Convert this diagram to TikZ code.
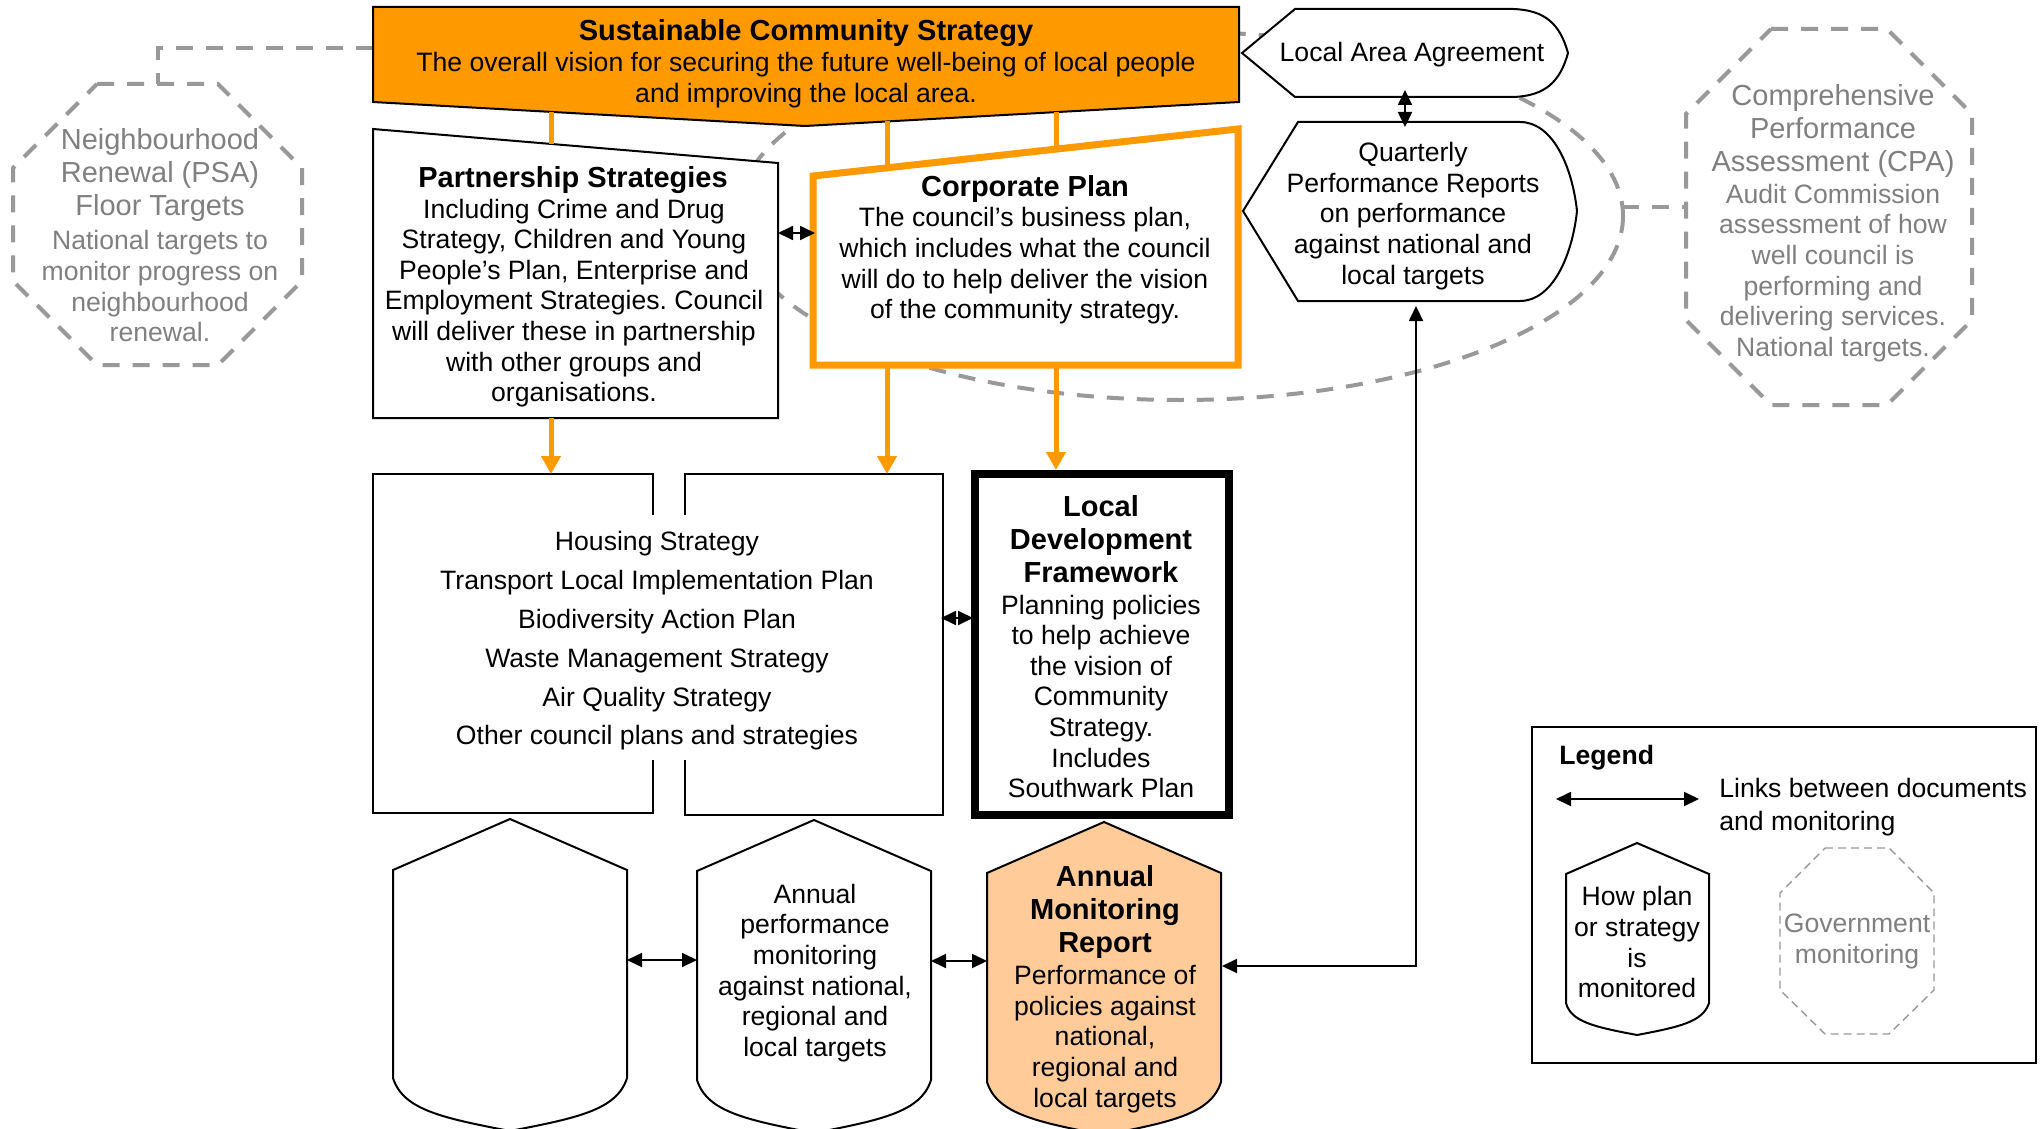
\documentclass[tikz,border=0pt]{standalone}
\usepackage{fontspec}
\setmainfont{Liberation Sans}
\usetikzlibrary{arrows.meta}
\frenchspacing
\definecolor{scsorange}{RGB}{255,153,0}
\definecolor{amrpeach}{RGB}{255,204,153}
\definecolor{govgrey}{RGB}{153,153,153}
\definecolor{govtext}{RGB}{128,128,128}
\newcommand\fbody{\fontsize{13.3}{15.3}\selectfont}
\newcommand\fbig{\fontsize{14.5}{16.7}\selectfont}
\newcommand\sst{\rule[-0.28em]{0pt}{1.15em}}
\tikzset{
  txt/.style={inner sep=0pt, align=center, font=\fbody},
  ttl/.style={inner sep=0pt, align=center, font=\fbig\bfseries},
  gtxt/.style={inner sep=0pt, align=center, font=\fbody, text=govtext},
  gbig/.style={inner sep=0pt, align=center, font=\fbig, text=govtext},
  box/.style={draw=black, line width=1pt, fill=white, line join=miter},
  govline/.style={draw=govgrey, line width=2pt, dash pattern=on 8.5pt off 6.5pt},
  govthin/.style={draw=govgrey, line width=0.7pt, dash pattern=on 4pt off 2.5pt},
  dlink/.style={draw=black, line width=0.9pt, {Triangle[length=7.5pt,width=7pt]}-{Triangle[length=7.5pt,width=7pt]}},
  feed/.style={draw=scsorange, line width=2.5pt},
  feedarrow/.style={draw=scsorange, line width=2.5pt, -{Triangle[length=9pt,width=9.5pt]}},
}
\begin{document}
\begin{tikzpicture}[x=0.5pt,y=-0.5pt]
\useasboundingbox (0,0) rectangle (2040,1129);
\fill[white] (0,0) rectangle (2040,1129);

% ---------- government monitoring (dashed) ----------
\draw[govline] (1180,216) ellipse [x radius=443, y radius=184];
\coordinate (ellE) at (1622,207);
\coordinate (cpaW) at (1686,207);
\draw[govline] (ellE) -- (cpaW);
\coordinate (scsW) at (373,48);
\coordinate (nrN) at (158,84);
\draw[govline] (scsW) -| (nrN);

\draw[govline] (97,84) -- (218,84) -- (302,168) -- (302,281) -- (218,365) -- (97,365) -- (13,281) -- (13,168) -- cycle;
\node[gbig] (nrT) at (160,174) {\sst Neighbourhood\\\sst Renewal (PSA)\\\sst Floor Targets};
\node[gtxt] (nrB) at (160,288) {\sst National targets to\\\sst monitor progress on\\\sst neighbourhood\\\sst renewal.};

\draw[govline] (1771,29) -- (1887,29) -- (1972,114) -- (1972,320) -- (1887,405) -- (1771,405) -- (1686,320) -- (1686,114) -- cycle;
\node[gbig] (cpaT) at (1833,130) {\sst Comprehensive\\\sst Performance\\\sst Assessment (CPA)};
\node[gtxt] (cpaB) at (1833,272) {\sst Audit Commission\\\sst assessment of how\\\sst well council is\\\sst performing and\\\sst delivering services.\\\sst National targets.};

% ---------- Sustainable Community Strategy ----------
\draw[box, fill=scsorange] (373,7) -- (1239,7) -- (1239,102) -- (805,126) -- (373,102) -- cycle;
\node[ttl] (scsT) at (806,32) {\sst Sustainable Community Strategy};
\node[txt] (scsB) at (806,79) {\sst The overall vision for securing the future well-being of local people\\\sst and improving the local area.};

% ---------- Partnership Strategies ----------
\draw[box] (373,129) -- (778,163) -- (778,418) -- (373,418) -- cycle;
\node[ttl] (psT) at (573,179) {\sst Partnership Strategies};
\node[txt] (psB) at (574,302) {\sst Including Crime and Drug\\\sst Strategy, Children and Young\\\sst People’s Plan, Enterprise and\\\sst Employment Strategies. Council\\\sst will deliver these in partnership\\\sst with other groups and\\\sst organisations.};

% ---------- Corporate Plan ----------
\draw[draw=scsorange, line width=3.5pt, fill=white] (813,176) -- (1238,129) -- (1238,365) -- (813,365) -- cycle;
\node[ttl] (cpT) at (1025,188) {\sst Corporate Plan};
\node[txt] (cpB) at (1025,265) {\sst The council’s business plan,\\\sst which includes what the council\\\sst will do to help deliver the vision\\\sst of the community strategy.};

% ---------- Local Area Agreement ----------
\draw[box] (1295,9) -- (1513,9) .. controls (1545,10) and (1560,24) .. (1568,53) .. controls (1560,82) and (1545,96) .. (1513,97) -- (1295,97) -- (1242,53) -- cycle;
\node[txt] (laa) at (1412,54) {\sst Local Area Agreement};

% ---------- Quarterly Performance Reports ----------
\draw[box] (1298,122) -- (1520,122) .. controls (1552,122) and (1572,165) .. (1577,211) .. controls (1572,257) and (1552,301) .. (1520,301) -- (1298,301) -- (1243,211) -- cycle;
\node[txt] (qpr) at (1413,215) {\sst Quarterly\\\sst Performance Reports\\\sst on performance\\\sst against national and\\\sst local targets};

% ---------- other council plans ----------
\draw[line width=1pt] (653,515) -- (653,474) -- (373,474) -- (373,813) -- (653,813) -- (653,760);
\draw[line width=1pt] (685,515) -- (685,474) -- (943,474) -- (943,815) -- (685,815) -- (685,760);
\node[inner sep=0pt, align=center, font=\fontsize{13.3}{19.4}\selectfont] (hs) at (657,640)
  {\sst Housing Strategy\\\sst Transport Local Implementation Plan\\\sst Biodiversity Action Plan\\\sst Waste Management Strategy\\\sst Air Quality Strategy\\\sst Other council plans and strategies};

% ---------- Local Development Framework ----------
\draw[line width=4pt, fill=white] (975,474) rectangle (1229,815);
\node[ttl] (ldfT) at (1101,541) {\sst Local\\\sst Development\\\sst Framework};
\node[txt] (ldfB) at (1101,698) {\sst Planning policies\\\sst to help achieve\\\sst the vision of\\\sst Community\\\sst Strategy.\\\sst Includes\\\sst Southwark Plan};

% ---------- monitoring shapes ----------
\draw[box] (510,819) -- (627,870) -- (627,1078) .. controls (617,1110) and (577,1118) .. (510,1131) .. controls (443,1118) and (403,1110) .. (393,1078) -- (393,870) -- cycle;
\draw[box] (814,820) -- (931,871) -- (931,1080) .. controls (921,1112) and (881,1120) .. (814,1133) .. controls (747,1120) and (707,1112) .. (697,1080) -- (697,871) -- cycle;
\node[txt] (apm) at (815,972) {\sst Annual\\\sst performance\\\sst monitoring\\\sst against national,\\\sst regional and\\\sst local targets};
\draw[box, fill=amrpeach] (1104,822) -- (1221,873) -- (1221,1082) .. controls (1211,1114) and (1171,1122) .. (1104,1135) .. controls (1037,1122) and (997,1114) .. (987,1082) -- (987,873) -- cycle;
\node[ttl] (amrT) at (1105,911) {\sst Annual\\\sst Monitoring\\\sst Report};
\node[txt] (amrB) at (1105,1038) {\sst Performance of\\\sst policies against\\\sst national,\\\sst regional and\\\sst local targets};

% ---------- orange feeds ----------
\coordinate (scsA) at (551,112); \coordinate (psN) at (551,144);
\coordinate (psS) at (551,418);  \coordinate (hsAN) at (551,474);
\coordinate (scsB) at (887,121); \coordinate (cpNB) at (887,168);
\coordinate (cpSB) at (887,367); \coordinate (hsBN) at (887,474);
\coordinate (scsC) at (1056,112); \coordinate (cpNC) at (1056,149);
\coordinate (cpSC) at (1056,367); \coordinate (ldfN) at (1056,470);
\draw[feed] (scsA) -- (psN);
\draw[feed] (scsB) -- (cpNB);
\draw[feed] (scsC) -- (cpNC);
\draw[feedarrow] (psS) -- (hsAN);
\draw[feedarrow] (cpSB) -- (hsBN);
\draw[feedarrow] (cpSC) -- (ldfN);

% ---------- links ----------
\coordinate (psE) at (778,233); \coordinate (cpW) at (815,233);
\draw[dlink] (psE) -- (cpW);
\coordinate (laaS) at (1405,90); \coordinate (qprN) at (1405,127);
\draw[dlink] (laaS) -- (qprN);
\coordinate (hsE) at (941,618); \coordinate (ldfW) at (973,618);
\draw[dlink] (hsE) -- (ldfW);
\coordinate (s1E) at (627,960); \coordinate (s2W) at (697,960);
\draw[dlink] (s1E) -- (s2W);
\coordinate (s2E) at (931,961); \coordinate (amrW) at (987,961);
\draw[dlink] (s2E) -- (amrW);
\coordinate (amrE) at (1222,966); \coordinate (qprS) at (1416,306);
\draw[dlink] (amrE) -| (qprS);

% ---------- legend ----------
\draw[line width=1pt] (1532,727) rectangle (2036,1063);
\node[inner sep=0pt, anchor=west, font=\fbody\bfseries] (lgT) at (1559,757) {\sst Legend};
\coordinate (lgA) at (1556,799); \coordinate (lgB) at (1699,799);
\draw[dlink] (lgA) -- (lgB);
\node[inner sep=0pt, anchor=west, align=left, font=\fontsize{13.3}{14.2}\selectfont] (lgL) at (1719,806) {\sst Links between documents\\\sst and monitoring};
\draw[box] (1637,843) -- (1709,874) -- (1709,1003) .. controls (1703,1022) and (1679,1027) .. (1637,1035) .. controls (1595,1027) and (1571,1022) .. (1566,1003) -- (1566,874) -- cycle;
\node[txt] (lgM) at (1637,944) {\sst How plan\\\sst or strategy\\\sst is\\\sst monitored};
\draw[govthin] (1825,848) -- (1889,848) -- (1934,893) -- (1934,990) -- (1889,1034) -- (1825,1034) -- (1780,990) -- (1780,893) -- cycle;
\node[gtxt] (lgG) at (1857,940) {\sst Government\\\sst monitoring};
\end{tikzpicture}
\end{document}
